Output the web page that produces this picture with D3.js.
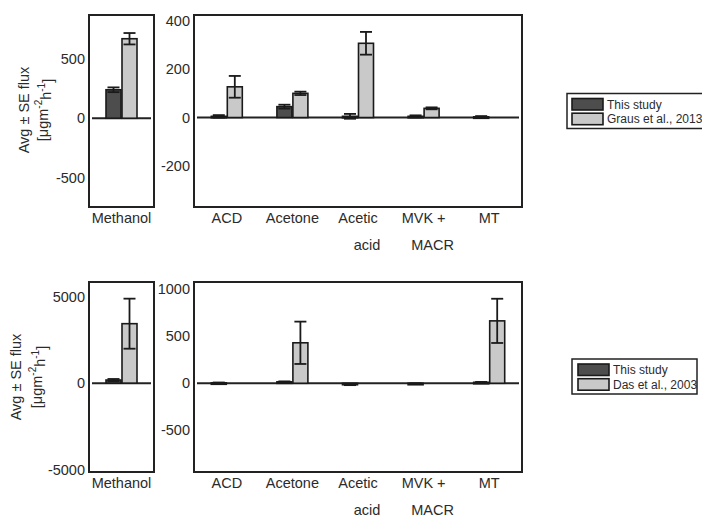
<!DOCTYPE html>
<html><head><meta charset="utf-8">
<script src="https://cdn.jsdelivr.net/npm/d3@7"></script>
<style>body{margin:0;background:#fff;} text{font-family:"Liberation Sans",Arial,sans-serif;fill:#2b2b2b;}</style>
</head><body>
<svg id="c" width="702" height="518"></svg>
<script>
const categories = ["ACD", "Acetone", "Acetic acid", "MVK + MACR", "MT"];
const categoryLines = [["ACD"], ["Acetone"], ["Acetic", "acid"], ["MVK +", "MACR"], ["MT"]];
const methanolLabel = "Methanol";

const legendTop = ["This study", "Graus et al., 2013"];
const legendBottom = ["This study", "Das et al., 2003"];

// top row
const methanolTopVals = [240, 670];
const methanolTopErr = [20, 48];
const thisStudyTop = [5, 45, 5, 5, 3];
const thisStudyTopErr = [5, 8, 10, 4, 3];
const grausVals = [127, 100, 307, 38, null];
const grausErr = [45, 7, 47, 4, null];

// bottom row
const methanolBottomVals = [180, 3445];
const methanolBottomErr = [60, 1450];
const thisStudyBottom = [5, 15, -15, -5, 10];
const thisStudyBottomErr = [3, 5, 5, 3, 4];
const dasVals = [null, 430, null, null, 663];
const dasErr = [null, 225, null, null, 235];

const ticksTopMeth = [-500, 0, 500];
const ticksTopMain = [-200, 0, 200, 400];
const ticksBotMeth = [-5000, 0, 5000];
const ticksBotMain = [-500, 0, 500, 1000];

const domTopMeth = [-748, 870];
const domTopMain = [-370, 424];
const domBotMeth = [-5150, 5860];
const domBotMain = [-943, 1076];

const colors = ["#4d4d4d", "#c9c9c9"];
const svg = d3.select("#c");

function panel(x0, x1, y0, y1, domain, ticks, cats, lines, series, errs) {
  const g = svg.append("g");
  const y = d3.scaleLinear().domain(domain).range([y1, y0]);
  const x = d3.scaleBand().domain(cats).range([x0, x1]).padding(0);
  g.append("line").attr("x1", x0 + 3).attr("x2", x1 - 3)
    .attr("y1", y(0)).attr("y2", y(0)).attr("stroke", "#222").attr("stroke-width", 2);
  const bw = 15, off = [-8, 8];
  series.forEach((vals, si) => {
    vals.forEach((v, i) => {
      if (v == null) return;
      const cx = x(cats[i]) + x.bandwidth() / 2 + off[si];
      const top = Math.min(y(v), y(0)), h = Math.max(Math.abs(y(v) - y(0)), 1.5);
      g.append("rect").attr("x", cx - bw / 2).attr("y", top).attr("width", bw).attr("height", h)
        .attr("fill", colors[si]).attr("stroke", "#1a1a1a").attr("stroke-width", 1.6);
      const e = errs[si][i];
      if (e != null) {
        const ya = y(v + e), yb = y(v - e);
        g.append("line").attr("x1", cx).attr("x2", cx).attr("y1", ya).attr("y2", yb)
          .attr("stroke", "#1a1a1a").attr("stroke-width", 1.8);
        [ya, yb].forEach(yy => g.append("line").attr("x1", cx - 6).attr("x2", cx + 6)
          .attr("y1", yy).attr("y2", yy).attr("stroke", "#1a1a1a").attr("stroke-width", 1.8));
      }
    });
  });
  g.append("rect").attr("x", x0).attr("y", y0).attr("width", x1 - x0).attr("height", y1 - y0)
    .attr("fill", "none").attr("stroke", "#222").attr("stroke-width", 2);
  const ax = g.append("g").attr("transform", `translate(${x0},0)`)
    .call(d3.axisLeft(y).tickValues(ticks).tickSize(0).tickPadding(4).tickFormat(d => String(d)));
  ax.select(".domain").remove();
  ax.selectAll("text").attr("font-size", 14.5).style("font-family", "Liberation Sans, Arial, sans-serif").attr("fill", "#2b2b2b");
  cats.forEach((c, i) => {
    const cx = x(c) + x.bandwidth() / 2;
    lines[i].forEach((ln, li) => {
      g.append("text").attr("x", cx + (li ? 9 : 0)).attr("y", y1 + 16 + li * 27)
        .attr("text-anchor", "middle").attr("font-size", 14.5).text(ln);
    });
  });
}

function ytitle(xa, xb, cy) {
  svg.append("text").attr("transform", `translate(${xa},${cy}) rotate(-90)`)
    .attr("text-anchor", "middle").attr("font-size", 14.5).attr("dy", "0.35em").text("Avg ± SE flux");
  const t = svg.append("text").attr("transform", `translate(${xb},${cy}) rotate(-90)`)
    .attr("text-anchor", "middle").attr("font-size", 14.5).attr("dy", "0.35em");
  t.append("tspan").text("[μgm");
  t.append("tspan").attr("font-size", 10).attr("dy", "-0.6em").text("-2");
  t.append("tspan").attr("dy", "0.6em").text("h");
  t.append("tspan").attr("font-size", 10).attr("dy", "-0.6em").text("-1");
  t.append("tspan").attr("dy", "0.6em").text("]");
}

function legend(x, y, w, h, sx, names) {
  svg.append("rect").attr("x", x).attr("y", y).attr("width", w).attr("height", h)
    .attr("fill", "#fff").attr("stroke", "#222").attr("stroke-width", 1.5);
  names.forEach((n, i) => {
    const ry = y + 5 + i * 14.7;
    svg.append("rect").attr("x", sx).attr("y", ry).attr("width", 31).attr("height", 11.5)
      .attr("fill", colors[i]).attr("stroke", "#1a1a1a").attr("stroke-width", 1.6);
    svg.append("text").attr("x", sx + 35).attr("y", ry + 6).attr("dy", "0.35em")
      .attr("font-size", 12).text(n);
  });
}

panel(89, 154, 15, 207, domTopMeth, ticksTopMeth, [methanolLabel], [[methanolLabel]],
  [[methanolTopVals[0]], [methanolTopVals[1]]], [[methanolTopErr[0]], [methanolTopErr[1]]]);
panel(194, 522, 15, 207, domTopMain, ticksTopMain, categories, categoryLines,
  [thisStudyTop, grausVals], [thisStudyTopErr, grausErr]);
ytitle(24, 43, 110);
legend(567, 93.5, 140, 35, 572, legendTop);

panel(89, 154, 282, 472, domBotMeth, ticksBotMeth, [methanolLabel], [[methanolLabel]],
  [[methanolBottomVals[0]], [methanolBottomVals[1]]], [[methanolBottomErr[0]], [methanolBottomErr[1]]]);
panel(194, 522, 282, 472, domBotMain, ticksBotMain, categories, categoryLines,
  [thisStudyBottom, dasVals], [thisStudyBottomErr, dasErr]);
ytitle(16, 37, 377);
legend(572, 359, 125, 35, 578, legendBottom);
</script>
</body></html>
